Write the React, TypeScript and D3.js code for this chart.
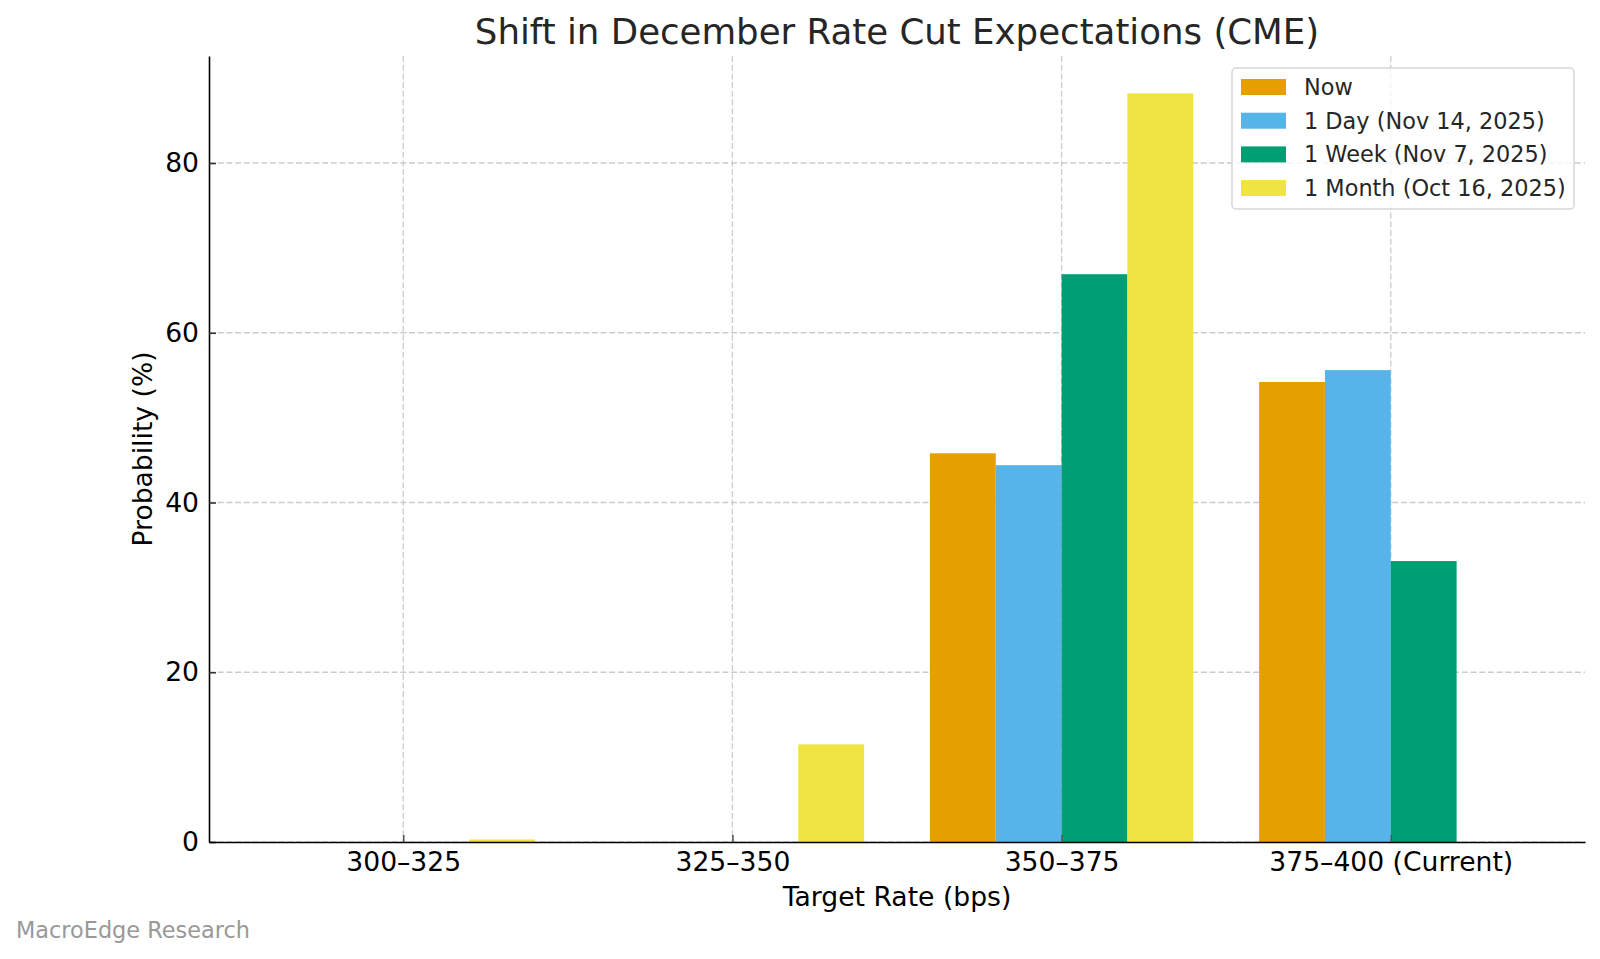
import React, { useRef, useEffect } from 'react';
import * as d3 from 'd3';

const categories = ['300–325', '325–350', '350–375', '375–400 (Current)'];
const seriesNames = ['Now', '1 Day (Nov 14, 2025)', '1 Week (Nov 7, 2025)', '1 Month (Oct 16, 2025)'];
const seriesColors = ['#E69F00', '#56B4E9', '#009E73', '#F0E442'];

const nowValues = [0, 0, 45.8, 54.2];
const oneDayValues = [0, 0, 44.4, 55.6];
const oneWeekValues = [0, 0, 66.9, 33.1];
const oneMonthValues = [0.3, 11.5, 88.2, 0];

const yTicks = [0, 20, 40, 60, 80];

const seriesValues = [nowValues, oneDayValues, oneWeekValues, oneMonthValues];

const App: React.FC = () => {
  const svgRef = useRef<SVGSVGElement | null>(null);

  const width = 1600;
  const height = 959;
  const marginTop = 56;
  const marginRight = 15;
  const marginBottom = 117;
  const marginLeft = 209;
  const font = '"DejaVu Sans", sans-serif';

  useEffect(() => {
    document.body.style.margin = '0';
    if (!svgRef.current) {
      return;
    }
    const svg = d3.select(svgRef.current);
    svg.selectAll('*').remove();

    const barWidth = 0.2;
    const n = seriesNames.length;
    // matplotlib-like margins around the bar extent
    const lo = -0.4;
    const hi = categories.length - 1 + 0.4;
    const pad = (hi - lo) * 0.05;
    const x = d3.scaleLinear()
      .domain([lo - pad, hi + pad])
      .range([marginLeft, width - marginRight]);

    const yMax = (d3.max(seriesValues.flat()) ?? 0) * 1.05;
    const y = d3.scaleLinear()
      .domain([0, yMax])
      .range([height - marginBottom, marginTop]);

    // grid
    const grid = svg.append('g');
    yTicks.forEach(t => {
      grid.append('line')
        .attr('x1', marginLeft).attr('x2', width - marginRight)
        .attr('y1', y(t)).attr('y2', y(t))
        .attr('stroke', '#cccccc').attr('stroke-width', 1.3)
        .attr('stroke-dasharray', '6,2.7');
    });
    categories.forEach((_, i) => {
      grid.append('line')
        .attr('x1', x(i)).attr('x2', x(i))
        .attr('y1', marginTop).attr('y2', height - marginBottom)
        .attr('stroke', '#cccccc').attr('stroke-width', 1.3)
        .attr('stroke-dasharray', '6,2.7');
    });

    // bars
    seriesValues.forEach((vals, s) => {
      const offset = (s - (n - 1) / 2) * barWidth;
      svg.append('g')
        .selectAll('rect')
        .data(vals)
        .join('rect')
        .attr('x', (_, i) => x(i + offset - barWidth / 2))
        .attr('width', x(barWidth) - x(0))
        .attr('y', d => y(d))
        .attr('height', d => y(0) - y(d))
        .attr('fill', seriesColors[s]);
    });

    // y axis
    const yAxis = svg.append('g')
      .attr('transform', `translate(${marginLeft},0)`)
      .call(d3.axisLeft(y).tickValues(yTicks).tickSize(-7).tickPadding(10).tickSizeOuter(0));
    yAxis.select('.domain').attr('stroke', '#000').attr('stroke-width', 1.6);
    yAxis.selectAll('.tick line').attr('stroke', '#333').attr('stroke-width', 1.6);
    yAxis.selectAll('.tick text')
      .attr('font-family', font).attr('font-size', 26.6).attr('fill', '#000');

    // x axis
    const xAxis = svg.append('g')
      .attr('transform', `translate(0,${height - marginBottom})`)
      .call(d3.axisBottom(x)
        .tickValues(categories.map((_, i) => i))
        .tickFormat((d) => categories[d as number])
        .tickSize(-7).tickPadding(10).tickSizeOuter(0));
    xAxis.select('.domain').attr('stroke', '#000').attr('stroke-width', 1.6);
    xAxis.selectAll('.tick line').attr('stroke', '#555').attr('stroke-width', 1.6);
    xAxis.selectAll('.tick text')
      .attr('font-family', font).attr('font-size', 26.6).attr('fill', '#000')
      .attr('dy', '0.71em');

    // titles
    svg.append('text')
      .attr('x', (marginLeft + width - marginRight) / 2)
      .attr('y', 44)
      .attr('text-anchor', 'middle')
      .attr('font-family', font).attr('font-size', 35.6).attr('fill', '#262626')
      .text('Shift in December Rate Cut Expectations (CME)');

    svg.append('text')
      .attr('x', (marginLeft + width - marginRight) / 2)
      .attr('y', 906)
      .attr('text-anchor', 'middle')
      .attr('font-family', font).attr('font-size', 26.6).attr('fill', '#000')
      .text('Target Rate (bps)');

    svg.append('text')
      .attr('transform', `translate(152,${(marginTop + height - marginBottom) / 2}) rotate(-90)`)
      .attr('text-anchor', 'middle')
      .attr('font-family', font).attr('font-size', 26.6).attr('fill', '#000')
      .text('Probability (%)');

    // watermark
    svg.append('text')
      .attr('x', 16).attr('y', 938)
      .attr('font-family', font).attr('font-size', 22.4).attr('fill', '#999999')
      .text('MacroEdge Research');

    // legend
    const legend = svg.append('g');
    legend.append('rect')
      .attr('x', 1232).attr('y', 68)
      .attr('width', 342).attr('height', 141)
      .attr('rx', 4)
      .attr('fill', 'white').attr('fill-opacity', 0.8)
      .attr('stroke', '#d6d6d6').attr('stroke-width', 1.5);
    seriesNames.forEach((name, i) => {
      const cy = 87 + i * 33.7;
      legend.append('rect')
        .attr('x', 1241).attr('y', cy - 8)
        .attr('width', 45).attr('height', 16)
        .attr('fill', seriesColors[i]);
      legend.append('text')
        .attr('x', 1304).attr('y', cy + 8)
        .attr('font-family', font).attr('font-size', 22.4).attr('fill', '#262626')
        .text(name);
    });
  }, [svgRef]);

  return (
    <div>
      <svg ref={svgRef} width={width} height={height} style={{ display: 'block', background: '#fff' }} />
    </div>
  );
};

export default App;
